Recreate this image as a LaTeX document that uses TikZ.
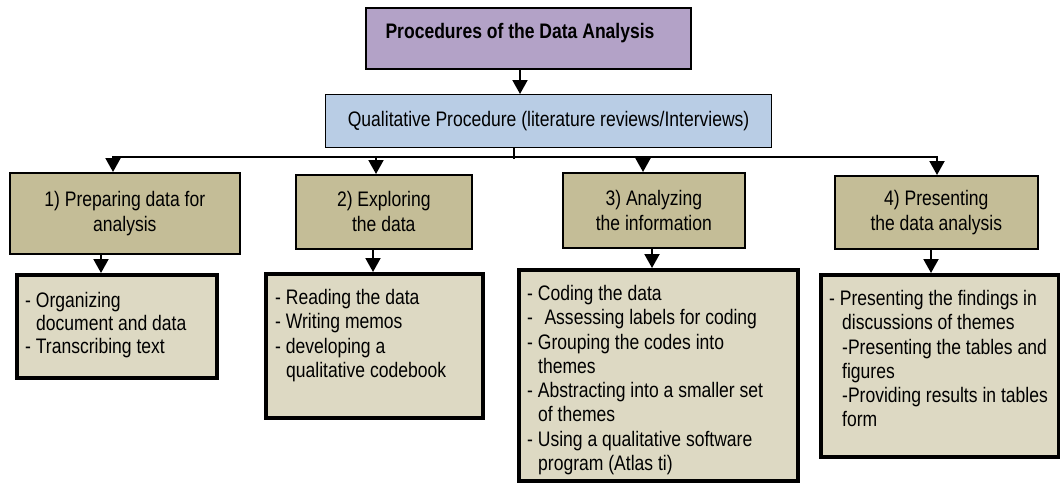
\documentclass[tikz,border=0pt]{standalone}
\usepackage{fontspec}
\setmainfont{Liberation Sans}[FakeStretch=0.835]
\usetikzlibrary{arrows.meta}
\definecolor{purplebox}{HTML}{B3A2C7}
\definecolor{bluebox}{HTML}{B9CDE5}
\definecolor{tanbox}{HTML}{C4BD97}
\definecolor{lightbox}{HTML}{DDD9C3}
\begin{document}
\begin{tikzpicture}[x=1pt,y=-1pt,
  box/.style={draw=black, rectangle, inner sep=0pt, anchor=north west, font=\fontsize{21}{25}\selectfont, align=center},
  topbox/.style={box, fill=purplebox, line width=2pt},
  midbox/.style={box, fill=bluebox, line width=1.2pt},
  stepbox/.style={box, fill=tanbox, line width=1.6pt},
  listbox/.style={box, fill=lightbox, line width=3.6pt},
  listtext/.style={anchor=north west, inner sep=0pt, align=left, font=\fontsize{21}{24.3}\selectfont},
  conn/.style={draw=black, line width=2pt},
  tip/.style={-{Triangle[width=15pt,length=14pt]}},
  arr/.style={conn, tip}
]
\useasboundingbox (0,0) rectangle (1060,488);
% top
\node[topbox, minimum width=325pt, minimum height=61pt] (top) at (365,7) {};
\node[anchor=base, inner sep=0pt, font=\fontsize{21}{25}\selectfont\bfseries] (title) at (520,38) {Procedures of the Data Analysis};
\node[midbox, minimum width=446pt, minimum height=53pt] (qual) at (325,94) {Qualitative Procedure (literature reviews/Interviews)};
% step boxes
\node[stepbox, minimum width=230pt, minimum height=81pt] (b1) at (9,172) {1) Preparing data for\\analysis};
\node[stepbox, minimum width=176pt, minimum height=74pt] (b2) at (295,174) {2) Exploring\\the data};
\node[stepbox, minimum width=182pt, minimum height=75pt] (b3) at (562,172) {3) Analyzing\\the information};
\node[stepbox, minimum width=203pt, minimum height=73pt] (b4) at (834,175) {4) Presenting\\the data analysis};
% list boxes
\node[listbox, minimum width=200pt, minimum height=103pt] (l1) at (15,273) {};
\node[listbox, minimum width=217pt, minimum height=144pt] (l2) at (264,272) {};
\node[listbox, minimum width=279pt, minimum height=211pt] (l3) at (517,268) {};
\node[listbox, minimum width=238pt, minimum height=182pt] (l4) at (819,273) {};
% list texts
\node[listtext, font=\fontsize{21}{23}\selectfont] (t1) at (25,292) {- Organizing\\\hspace*{11pt}document and data\\- Transcribing text};
\node[listtext] (t2) at (275,289) {- Reading the data\\- Writing memos\\- developing a\\\hspace*{11pt}qualitative codebook};
\node[listtext] (t3) at (527,285) {- Coding the data\\-\hspace*{11.5pt}Assessing labels for coding\\- Grouping the codes into\\\hspace*{11pt}themes\\- Abstracting into a smaller set\\\hspace*{11pt}of themes\\- Using a qualitative software\\\hspace*{11pt}program (Atlas ti)};
\node[listtext] (t4) at (829,290) {- Presenting the findings in\\\hspace*{13pt}discussions of themes\\\hspace*{13pt}-Presenting the tables and\\\hspace*{13pt}figures\\\hspace*{13pt}-Providing results in tables\\\hspace*{13pt}form};
% connectors
\draw[arr] (title |- top.south) -- (title |- qual.north);
\coordinate (k) at (514,159);
\draw[conn] (k |- qual.south) -- (k);
\coordinate (bus1) at (113,157);
\coordinate (bus2) at (376,157);
\coordinate (bus3) at (643,157);
\coordinate (bus4) at (937,157);
\draw[conn, {Triangle[width=15pt,length=14pt]}-{Triangle[width=15pt,length=14pt]}] (bus1 |- b1.north) -- (bus1) -- (bus4) -- (bus4 |- b4.north);
\draw[arr] (bus2) -- (bus2 |- b2.north);
\draw[arr] (bus3) -- (bus3 |- b3.north);
\coordinate (d1) at (101,0);
\coordinate (d2) at (373,0);
\coordinate (d3) at (652,0);
\coordinate (d4) at (931,0);
\draw[arr] (d1 |- b1.south) -- (d1 |- l1.north);
\draw[arr] (d2 |- b2.south) -- (d2 |- l2.north);
\draw[arr] (d3 |- b3.south) -- (d3 |- l3.north);
\draw[arr] (d4 |- b4.south) -- (d4 |- l4.north);
\end{tikzpicture}
\end{document}
